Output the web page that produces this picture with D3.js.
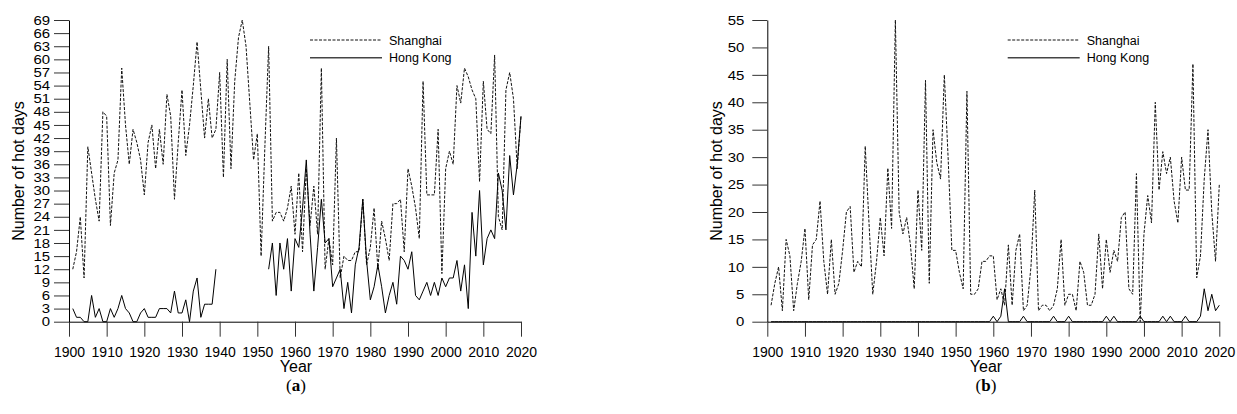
<!DOCTYPE html>
<html>
<head>
<meta charset="utf-8">
<script src="https://cdn.jsdelivr.net/npm/d3@7"></script>
<style>
  body { margin: 0; background: #fff; }
  svg text { font-family: "Liberation Sans", Arial, sans-serif; fill: #000; }
</style>
</head>
<body>
<div id="chart"></div>
<script>
var years = d3.range(1901, 2021);

// panel (a)
var shanghaiA = [12,16,24,10,40,34,28,23,48,47, 22,34,37,58,45,36,44,41,37,29,
  41,45,35,44,36,52,47,28,41,53, 38,45,54,64,53,42,51,42,44,57,
  33,60,35,55,65,69,63,50,37,43, 15,40,63,23,25,25,23,26,31,20,
  34,16,35,22,31,20,58,12,19,13, 42,10,15,14,14,16,16,28,13,17,
  26,12,23,19,14,27,27,28,16,35, 31,26,19,55,29,29,29,44,11,35,
  39,36,54,50,58,56,53,51,32,55, 44,43,61,24,21,53,57,51,35,47];
var hongkongA = [3,1,1,0,0,6,1,3,0,0, 3,1,3,6,3,2,0,0,2,3,
  1,1,1,3,3,3,2,7,2,2, 5,0,7,10,1,4,4,4,12,null,
  null,null,null,null,null,null,null,null,null,null, null,null,12,18,6,18,12,19,7,19,
  17,26,37,20,7,17,28,18,19,8, 10,12,3,9,2,13,17,28,14,5,
  8,13,8,2,6,9,4,15,14,12, 16,6,5,7,9,6,9,6,10,8,
  10,10,14,7,13,3,25,15,30,13, 19,21,19,34,30,21,38,29,36,47];

// panel (b)
var shanghaiB = [3,7,10,2,15,12,2,7,11,17, 4,14,15,22,11,5,15,5,7,13,
  20,21,9,11,10,32,18,5,11,19, 12,28,17,55,20,16,19,14,6,24,
  13,44,7,35,29,26,45,30,13,13, 9,6,42,5,5,6,11,11,12,12,
  4,6,3,14,3,13,16,2,3,10, 24,2,3,3,2,3,6,15,3,5,
  5,2,11,9,3,3,5,16,6,15, 9,13,11,19,20,6,5,27,0,16,
  23,18,40,24,31,27,30,22,18,30, 24,24,47,8,12,26,35,20,11,25];
var hongkongB = [0,0,0,0,0,0,0,0,0,0, 0,0,0,0,0,0,0,0,0,0,
  0,0,0,0,0,0,0,0,0,0, 0,0,0,0,0,0,0,0,0,0,
  0,0,0,0,0,0,0,0,0,0, 0,0,0,0,0,0,0,0,0,1,
  0,1,6,0,0,0,0,1,0,0, 0,0,0,0,0,1,0,0,0,1,
  0,0,0,0,0,0,0,0,0,1, 0,1,0,0,0,0,0,0,1,0,
  0,0,0,0,1,0,1,0,0,0, 1,0,0,0,1,6,2,5,2,3];

var yTicksA = d3.range(0, 70, 3);
var yTicksB = d3.range(0, 56, 5);
var xTicks = d3.range(1900, 2021, 10);
var seriesNames = ["Shanghai", "Hong Kong"];

var svg = d3.select("#chart").append("svg")
    .attr("width", 1237)
    .attr("height", 414);

function panel(opt) {
    var x = d3.scaleLinear().domain([1900, 2020]).range([opt.left, opt.left + 452]);
    var y = d3.scaleLinear().domain([0, opt.ymax]).range([321.7, 20]);
    var g = svg.append("g");

    g.append("g")
        .attr("transform", "translate(0,321.7)")
        .call(d3.axisBottom(x).tickValues(xTicks).tickFormat(d3.format("d"))
            .tickSize(15).tickSizeOuter(0).tickPadding(10))
        .selectAll(".tick text").style("font-size", "14px");
    var ay = g.append("g")
        .attr("transform", "translate(" + opt.left + ",0)")
        .call(d3.axisLeft(y).tickValues(opt.yticks).tickSize(15).tickSizeOuter(0));
    // labels a bit wide and short, as in the original
    ay.selectAll(".tick text")
        .style("font-size", "13px")
        .attr("x", -(15 + opt.pad) / 1.15)
        .attr("transform", "scale(1.15,1)");
    g.selectAll(".tick line").attr("stroke", "#333");
    g.selectAll(".domain").attr("stroke", "#000");

    g.append("text")
        .attr("x", opt.mid)
        .attr("y", 372)
        .attr("text-anchor", "middle")
        .style("font-size", "16px")
        .text("Year");
    g.append("text")
        .attr("transform", "translate(" + (opt.left - 45) + ",171) rotate(-90)")
        .attr("text-anchor", "middle")
        .style("font-size", "16px")
        .text("Number of hot days");
    var cap = g.append("text")
        .attr("x", opt.mid)
        .attr("y", 391)
        .attr("text-anchor", "middle")
        .style("font-family", "'Liberation Serif', serif")
        .style("font-size", "17px");
    cap.append("tspan").text("(");
    cap.append("tspan").style("font-weight", "bold").text(opt.label);
    cap.append("tspan").text(")");

    var line = d3.line()
        .defined(function (d) { return d[1] != null; })
        .x(function (d) { return x(d[0]); })
        .y(function (d) { return y(d[1]); });

    g.append("path")
        .datum(years.map(function (yr, i) { return [yr, opt.sh[i]]; }))
        .attr("fill", "none")
        .attr("stroke", "#111")
        .attr("stroke-width", 1)
        .attr("stroke-dasharray", "3,1.5")
        .attr("d", line);
    g.append("path")
        .datum(years.map(function (yr, i) { return [yr, opt.hk[i]]; }))
        .attr("fill", "none")
        .attr("stroke", "#000")
        .attr("stroke-width", 1)
        .attr("d", line);

    // legend
    var lx = opt.left + opt.legendDx;
    [0, 1].forEach(function (i) {
        var ly = 40 + i * 17.7;
        g.append("line")
            .attr("x1", lx).attr("x2", lx + 72)
            .attr("y1", ly).attr("y2", ly)
            .attr("stroke", i == 0 ? "#111" : "#444")
            .attr("stroke-width", i == 0 ? 1 : 1.5)
            .attr("stroke-dasharray", i == 0 ? "3,1.5" : null);
        g.append("text")
            .attr("x", lx + 79)
            .attr("y", ly + 4.5)
            .style("font-size", "12.5px")
            .text(seriesNames[i]);
    });
}

panel({left: 69, ymax: 69, yticks: yTicksA, sh: shanghaiA, hk: hongkongA, label: "a",
       legendDx: 241, pad: 4, mid: 296});
panel({left: 767.3, ymax: 55, yticks: yTicksB, sh: shanghaiB, hk: hongkongB, label: "b",
       legendDx: 240.4, pad: 8, mid: 986});
</script>
</body>
</html>
